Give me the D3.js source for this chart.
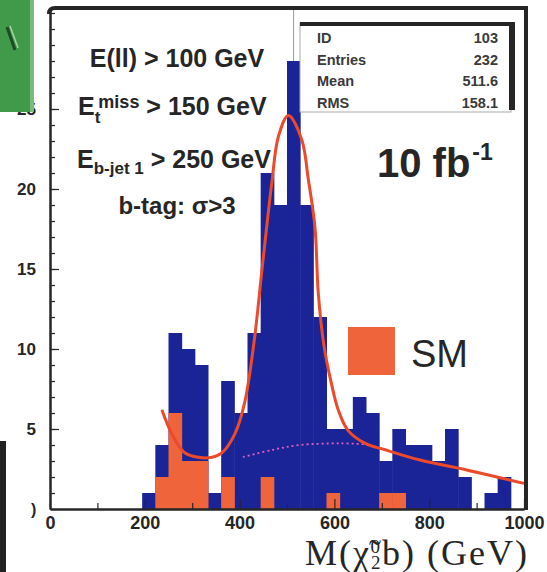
<!DOCTYPE html>
<html>
<head>
<meta charset="utf-8">
<script src="https://cdnjs.cloudflare.com/ajax/libs/d3/7.8.5/d3.min.js"></script>
<style>
  body { margin: 0; background: #fff; }
  svg { display: block; }
  text { fill: #262626; }
</style>
</head>
<body>
<div id="chart"></div>
<script>
/* ---------------------------- histogram data ---------------------------- */
// 36 bins from 0 to 1000 GeV
const binCount = 36;
const massMax = 1000;
// all events (blue)
const totalCounts = [0, 0, 0, 0, 0, 0, 0, 1, 4, 11, 10, 9, 1, 8, 6, 11, 21, 19,
                     28, 19, 12, 5, 5, 7, 6, 3, 5, 4, 4, 3, 5, 2, 0, 1, 2, 0];
// Standard Model background (orange)
const smCounts = [0, 0, 0, 0, 0, 0, 0, 0, 2, 6, 3, 3, 0, 2, 0, 0, 2, 0,
                  0, 0, 0, 1, 0, 0, 0, 1, 1, 0, 0, 0, 0, 0, 0, 0, 0, 0];

// fit curve
const fitMass  = [236, 257, 285, 334, 362, 390, 411, 432, 447, 468, 482, 503,
                  531, 545, 559, 566, 578, 594, 608, 629, 665, 707, 781, 879, 1000];
const fitValue = [6.2, 4.7, 3.5, 3.2, 3.5, 4.7, 6.7, 10.8, 14.9, 20.4, 23.3, 24.6,
                  23.1, 20.6, 17.6, 13.5, 10.2, 7.8, 6.2, 4.9, 4.1, 3.7, 3.06, 2.44, 1.6];
// background part of the fit (dotted)
const bkgMass  = [407, 470, 527, 612, 665];
const bkgValue = [3.25, 3.7, 4.0, 4.1, 4.05];

const xTicks = [0, 200, 400, 600, 800, 1000];
const xMinorTicks = [100, 300, 500, 700, 900];
const yTicks = [5, 10, 15, 20, 25];
const yMinorTicks = d3.range(1, 32);

const statLabels = ['ID', 'Entries', 'Mean', 'RMS'];
const statValues = ['103', '232', '511.6', '158.1'];

const cuts = [
    { main: 'E(ll) > 100 GeV' },
    { main: 'E', sub: 't', sup: 'miss', rest: ' > 150 GeV' },
    { main: 'E', sub: 'b-jet 1', rest: ' > 250 GeV' },
    { main: 'b-tag: σ>3' }
];

/* -------------------------------- colours ------------------------------- */
const blue = '#1a2497';
const orange = '#f0643c';
const red = '#ec4a2a';
const ink = '#262626';
const sans = '"Liberation Sans", Arial, sans-serif';
const serif = '"Liberation Serif", "Times New Roman", serif';

const width = 547, height = 572;
const svg = d3.select('#chart').append('svg')
    .attr('width', width)
    .attr('height', height)
    .style('font-family', sans);

const x = d3.scaleLinear().domain([0, massMax]).range([50, 524]);
const y = d3.scaleLinear().domain([0, 31.25]).range([509, 9]);
const binWidth = massMax / binCount;

/* ------------------------------ annotations ----------------------------- */
const cutText = svg.append('g').attr('font-weight', 'bold').attr('font-size', 25);
cutText.append('text').attr('x', 177).attr('y', 67).attr('text-anchor', 'middle').text(cuts[0].main);

const t2 = cutText.append('text').attr('x', 78).attr('y', 115);
t2.append('tspan').text(cuts[1].main);
t2.append('tspan').attr('font-size', 17).attr('dy', 8).text(cuts[1].sub);
t2.append('tspan').attr('font-size', 18).attr('dx', -2).attr('dy', -15).text(cuts[1].sup);
t2.append('tspan').attr('dy', 7).text(cuts[1].rest);

const t3 = cutText.append('text').attr('x', 77).attr('y', 168);
t3.append('tspan').text(cuts[2].main);
t3.append('tspan').attr('font-size', 17).attr('dy', 6).text(cuts[2].sub);
t3.append('tspan').attr('dy', -6).text(cuts[2].rest);

cutText.append('text').attr('x', 177).attr('y', 214).attr('text-anchor', 'middle')
    .attr('font-size', 24).text(cuts[3].main);

/* ------------------------------- histograms ----------------------------- */
function drawHist(counts, colour) {
    svg.append('g').selectAll('rect')
        .data(counts.map((c, i) => ({ i, c })).filter(d => d.c > 0))
        .enter()
        .append('rect')
        .attr('x', d => x(d.i * binWidth))
        .attr('width', d => x((d.i + 1) * binWidth) - x(d.i * binWidth) + 0.5)
        .attr('y', d => y(d.c))
        .attr('height', d => y(0) - y(d.c))
        .attr('fill', colour);
}
drawHist(totalCounts, blue);
drawHist(smCounts, orange);

// error bar of the highest bin
const maxBin = totalCounts.indexOf(d3.max(totalCounts));
svg.append('line')
    .attr('x1', x((maxBin + 0.5) * binWidth)).attr('x2', x((maxBin + 0.5) * binWidth))
    .attr('y1', y(totalCounts[maxBin])).attr('y2', 10)
    .attr('stroke', '#999').attr('stroke-width', 1);

/* ---------------------------------- fit --------------------------------- */
const bkgLine = d3.line()
    .x(d => x(d[0])).y(d => y(d[1]))
    .curve(d3.curveCatmullRom);
svg.append('path')
    .attr('d', bkgLine(d3.zip(bkgMass, bkgValue)))
    .attr('fill', 'none')
    .attr('stroke', '#e060c0')
    .attr('stroke-width', 1.8)
    .attr('stroke-dasharray', '2,3');

const fitLine = d3.line()
    .x(d => x(d[0])).y(d => y(d[1]))
    .curve(d3.curveCatmullRom);
svg.append('path')
    .attr('d', fitLine(d3.zip(fitMass, fitValue)))
    .attr('fill', 'none')
    .attr('stroke', red)
    .attr('stroke-width', 3);

/* ---------------------------------- axes -------------------------------- */
const yAxis = svg.append('g').attr('transform', `translate(${x(0)},0)`)
    .call(d3.axisLeft(y).tickValues(yTicks).tickSize(-9).tickPadding(14).tickSizeOuter(0));
const yMinor = svg.append('g').attr('transform', `translate(${x(0)},0)`)
    .call(d3.axisLeft(y).tickValues(yMinorTicks).tickSize(-5).tickFormat('').tickSizeOuter(0));
const xAxis = svg.append('g').attr('transform', `translate(0,${y(0)})`)
    .call(d3.axisBottom(x).tickValues(xTicks).tickFormat(d3.format('d'))
        .tickSize(-10).tickPadding(7).tickSizeOuter(0));
const xMinor = svg.append('g').attr('transform', `translate(0,${y(0)})`)
    .call(d3.axisBottom(x).tickValues(xMinorTicks).tickSize(-6).tickFormat('').tickSizeOuter(0));

[yAxis, yMinor, xAxis, xMinor].forEach(g => {
    g.select('.domain').attr('stroke', ink).attr('stroke-width', 2);
    g.selectAll('.tick line').attr('stroke', ink).attr('stroke-width', 1.2);
});
yAxis.selectAll('text').attr('font-size', 17).attr('font-weight', 'bold')
    .style('font-family', sans).attr('fill', ink);
xAxis.selectAll('text').attr('font-size', 18).attr('font-weight', 'bold')
    .style('font-family', sans).attr('fill', ink);
svg.append('text').attr('x', 31).attr('y', 515).attr('font-weight', 'bold')
    .attr('font-size', 16).text(')');

// frame top and right
svg.append('path')
    .attr('d', `M${x(0) - 1},14 Q${x(0) - 1},8 ${x(0) + 5},8 L${x(massMax) + 2},8 L${x(massMax) + 2},${y(0) + 1}`)
    .attr('fill', 'none').attr('stroke', ink).attr('stroke-width', 4);

/* ------------------------------- stats box ------------------------------ */
const stats = svg.append('g');
stats.append('rect').attr('x', 300).attr('y', 23).attr('width', 211).attr('height', 89)
    .attr('fill', '#fff').attr('stroke', '#aaa').attr('stroke-width', 1);
stats.append('rect').attr('x', 300).attr('y', 22).attr('width', 215).attr('height', 4).attr('fill', ink);
stats.append('rect').attr('x', 509).attr('y', 22).attr('width', 6).attr('height', 88).attr('fill', ink);
statLabels.forEach((s, i) => {
    stats.append('text').attr('x', 317).attr('y', 43 + i * 21.7)
        .attr('font-size', 14.5).attr('font-weight', 'bold').style('fill', '#3a3a3a').text(s);
    stats.append('text').attr('x', 498).attr('y', 43 + i * 21.7).attr('text-anchor', 'end')
        .attr('font-size', 14.5).attr('font-weight', 'bold').style('fill', '#3a3a3a').text(statValues[i]);
});

/* ------------------------------ lumi & legend --------------------------- */
const lumi = svg.append('text').attr('x', 377).attr('y', 177)
    .attr('font-weight', 'bold').attr('font-size', 40);
lumi.append('tspan').text('10 fb');
lumi.append('tspan').attr('font-size', 23).attr('dx', 2).attr('dy', -17).text('-1');

svg.append('rect').attr('x', 348).attr('y', 327).attr('width', 47).attr('height', 48).attr('fill', orange);
svg.append('text').attr('x', 411).attr('y', 367).attr('font-size', 38).text('SM');

/* ------------------------------- axis title ----------------------------- */
const title = svg.append('text').attr('x', 305).attr('y', 565)
    .style('font-family', serif)
    .style('letter-spacing', '2px')
    .attr('font-size', 36);
title.append('tspan').text('M(');
title.append('tspan').text('χ\u0303');
title.append('tspan').attr('font-size', 19).attr('dy', 4).text('2');
title.append('tspan').attr('font-size', 19).attr('dx', -12).attr('dy', -16).text('0');
title.append('tspan').attr('dy', 12).text('b)  (GeV)');

/* --------------------------- scan edge leftovers ------------------------ */
svg.append('rect').attr('x', 0).attr('y', 0).attr('width', 33).attr('height', 112).attr('fill', '#419a4a');
svg.append('rect').attr('x', 30).attr('y', 0).attr('width', 4).attr('height', 112).attr('fill', '#79bb7c');
svg.append('line').attr('x1', 7).attr('y1', 27).attr('x2', 15).attr('y2', 50)
    .attr('stroke', '#1f4a25').attr('stroke-width', 3);
svg.append('line').attr('x1', 10).attr('y1', 26).attr('x2', 18).attr('y2', 48)
    .attr('stroke', '#a9d6aa').attr('stroke-width', 1.5);
svg.append('rect').attr('x', 0).attr('y', 441).attr('width', 6).attr('height', 131).attr('fill', '#222');
</script>
</body>
</html>
